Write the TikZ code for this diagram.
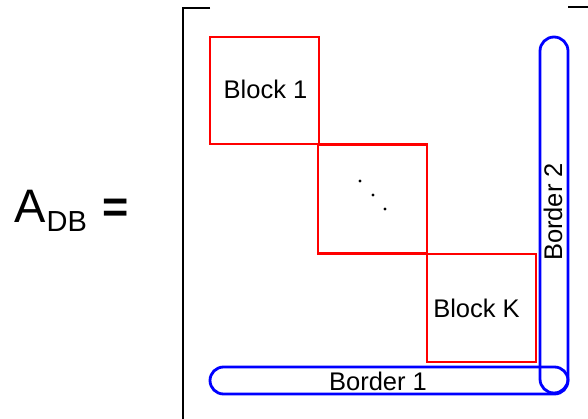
\documentclass[tikz,border=0pt]{standalone}
\usepackage{fontspec}
\setmainfont{Liberation Sans}
\tikzset{
  blockbox/.style={draw=red, line width=2.8pt, minimum width=109pt, minimum height=108pt, inner sep=0pt, anchor=center},
  borderbox/.style={draw=blue, line width=2.8pt, inner sep=0pt, anchor=center},
  lbl/.style={font=\fontsize{25.5}{28}\selectfont, inner sep=0pt, anchor=center},
  brk/.style={line width=1.6pt, black},
  dotm/.style={fill=black, circle, inner sep=0pt, minimum size=3.2pt}
}
\begin{document}
\begin{tikzpicture}[x=1pt,y=-1pt]
\useasboundingbox (0,0) rectangle (588,419);
% bracket
\coordinate (lt) at (210,8);
\coordinate (lc) at (183,8);
\coordinate (lb) at (183,421);
\draw[brk] (lt) -- (lc) -- (lb);
\coordinate (rt) at (568,7);
\coordinate (rc) at (590,7);
\draw[brk] (rt) -- (rc);
% blocks
\node[blockbox, minimum height=107pt] (b1) at (264.5,90.5) {};
\node[blockbox, minimum height=109pt] (b2) at (372.5,199) {};
\node[blockbox] (bk) at (481.5,308) {};
\node[lbl] (t1) at (265.5,89) {Block 1};
\node[lbl] (tk) at (476.5,308) {Block K};
\node[dotm] (d1) at (360,181) {};
\node[dotm] (d2) at (373,195) {};
\node[dotm] (d3) at (385,209) {};
% borders
\node[borderbox, minimum width=358pt, minimum height=27pt, rounded corners=13.5pt] (br1) at (389,380.5) {};
\node[borderbox, minimum width=28pt, minimum height=356pt, rounded corners=14pt] (br2) at (554,215) {};
\node[lbl] (tb1) at (378,381) {Border 1};
\node[lbl, rotate=90] (tb2) at (553,212) {Border 2};
% A_DB =
\node[inner sep=0pt, anchor=base west] (A) at (14,223) {\fontsize{47}{50}\selectfont A};
\node[inner sep=0pt, anchor=base west] (DB) at (46.5,232) {\fontsize{29}{30}\selectfont DB};
\node[inner sep=0pt, anchor=base west] (eq) at (102,223) {\fontsize{45}{50}\selectfont\bfseries =};
\end{tikzpicture}
\end{document}
